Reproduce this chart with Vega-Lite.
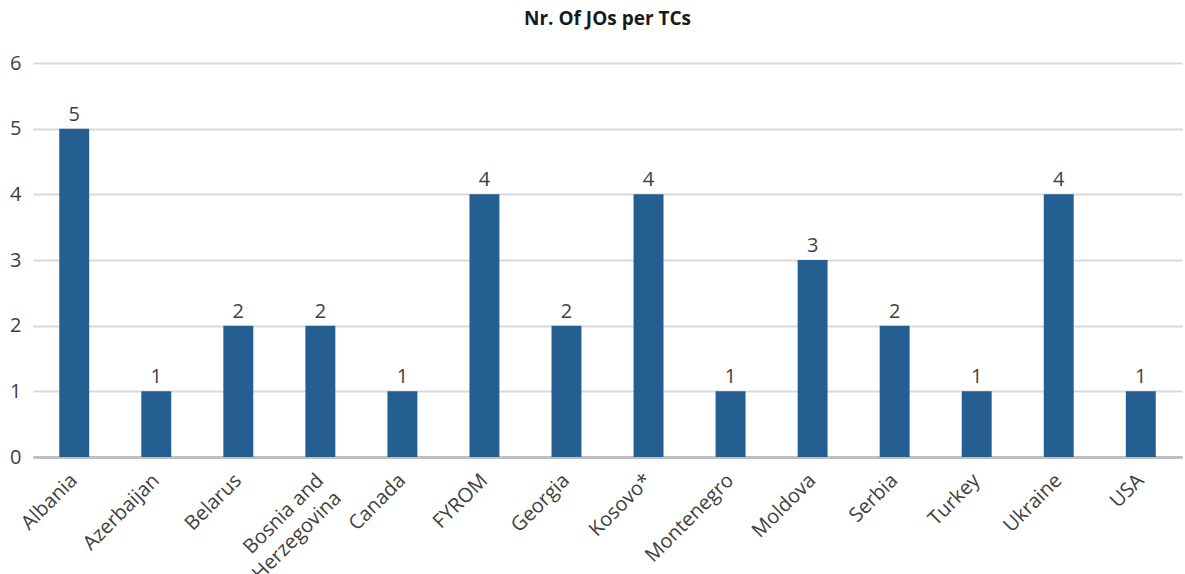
{
  "$schema": "https://vega.github.io/schema/vega-lite/v6.json",
  "autosize": "none",
  "width": 1149,
  "height": 394,
  "padding": {"left": 33, "top": 63, "right": 3, "bottom": 117},
  "background": "white",
  "title": {
    "text": "Nr. Of JOs per TCs",
    "font": "Open Sans",
    "fontSize": 19,
    "fontWeight": "bold",
    "color": "#1a1a1a",
    "anchor": "middle",
    "offset": 24
  },
  "data": {
    "values": [
      {"country": "Albania", "jos": 5},
      {"country": "Azerbaijan", "jos": 1},
      {"country": "Belarus", "jos": 2},
      {"country": "Bosnia and Herzegovina", "jos": 2},
      {"country": "Canada", "jos": 1},
      {"country": "FYROM", "jos": 4},
      {"country": "Georgia", "jos": 2},
      {"country": "Kosovo*", "jos": 4},
      {"country": "Montenegro", "jos": 1},
      {"country": "Moldova", "jos": 3},
      {"country": "Serbia", "jos": 2},
      {"country": "Turkey", "jos": 1},
      {"country": "Ukraine", "jos": 4},
      {"country": "USA", "jos": 1}
    ]
  },
  "config": {
    "view": {"stroke": null},
    "axis": {
      "labelFont": "Open Sans",
      "labelFontSize": 20,
      "labelColor": "#404040",
      "ticks": false,
      "title": null
    }
  },
  "encoding": {
    "x": {
      "field": "country",
      "type": "nominal",
      "sort": null,
      "scale": {"paddingInner": 0.635, "paddingOuter": 0.32},
      "axis": {
        "labelAngle": -45,
        "labelAlign": "right",
        "labelBaseline": "middle",
        "labelPadding": 20,
        "labelOverlap": false,
        "domainColor": "#bfbfbf",
        "domainWidth": 3,
        "labelExpr": "datum.value == 'Bosnia and Herzegovina' ? ['Bosnia and', 'Herzegovina'] : datum.value",
        "labelLineHeight": 25
      }
    },
    "y": {
      "field": "jos",
      "type": "quantitative",
      "scale": {"domain": [0, 6]},
      "axis": {
        "values": [0, 1, 2, 3, 4, 5, 6],
        "labelOverlap": false,
        "domain": false,
        "gridColor": "#d9d9d9",
        "gridWidth": 2,
        "labelPadding": 12
      }
    }
  },
  "layer": [
    {"mark": {"type": "bar", "color": "#255e91"}},
    {
      "mark": {
        "type": "text",
        "dy": -14,
        "font": "Open Sans",
        "fontSize": 20,
        "color": "#404040"
      },
      "encoding": {"text": {"field": "jos", "type": "quantitative"}}
    }
  ]
}
